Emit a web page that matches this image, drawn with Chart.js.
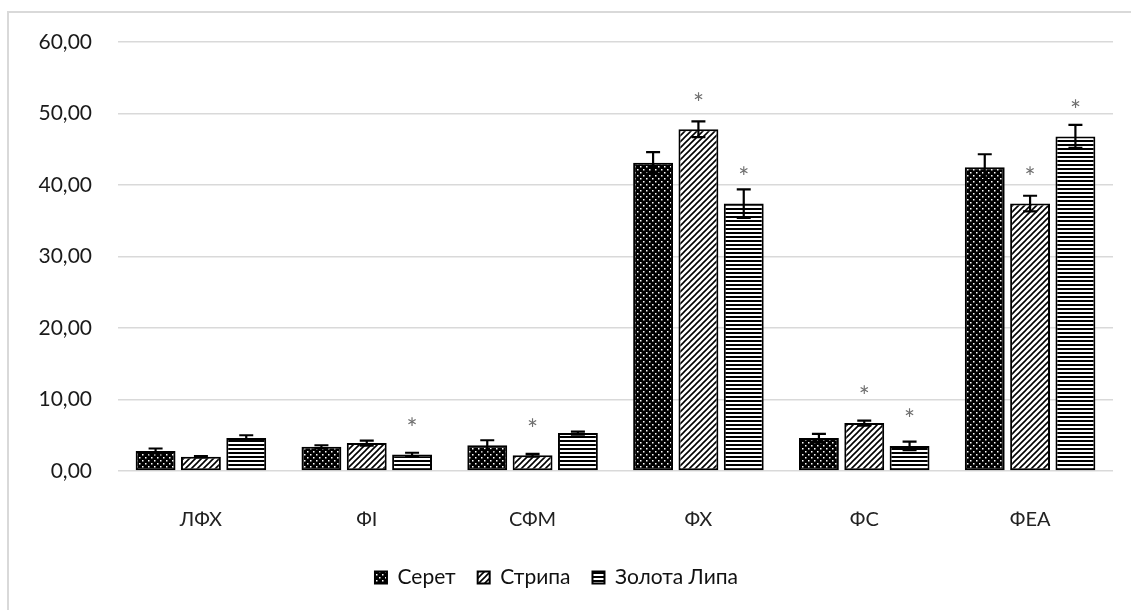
<!DOCTYPE html>
<html>
<head>
<meta charset="utf-8">
<script src="https://cdn.jsdelivr.net/npm/chart.js@4/dist/chart.umd.min.js"></script>
<style>
    html, body { margin: 0; padding: 0; background: #ffffff; }
    #wrap { width: 1131px; height: 610px; position: relative; }
</style>
</head>
<body>
<div id="wrap"><canvas id="ChartCanvas"></canvas></div>
<script>
// Categories and series
const categories = ['ЛФХ', 'ФІ', 'СФМ', 'ФХ', 'ФС', 'ФЕА'];

const seretValues  = [2.8, 3.4, 3.6, 43.1, 4.6, 42.5];
const seretErrors  = [0.35, 0.2, 0.7, 1.5, 0.6, 1.8];
const seretStars   = [false, false, false, false, false, false];

const strypaValues = [2.0, 3.9, 2.2, 47.8, 6.7, 37.4];
const strypaErrors = [0.1, 0.35, 0.2, 1.1, 0.35, 1.1];
const strypaStars  = [false, false, true, true, true, true];

const zolotaValues = [4.6, 2.3, 5.3, 37.4, 3.5, 46.8];
const zolotaErrors = [0.4, 0.25, 0.2, 2.0, 0.6, 1.6];
const zolotaStars  = [false, true, false, true, true, true];

const yTicks = [0, 10, 20, 30, 40, 50, 60];

// Fill patterns like the black/white Excel ones
function MakePattern(kind)
{
    const tile = document.createElement('canvas');
    const c = tile.getContext('2d');
    if (kind === 'dots')
    {
        tile.width = 6; tile.height = 6;
        c.fillStyle = '#000';
        c.fillRect(0, 0, 6, 6);
        c.fillStyle = '#fff';
        c.fillRect(1, 1, 1.5, 1.5);
        c.fillRect(4, 4, 1.5, 1.5);
    }
    else if (kind === 'diagonal')
    {
        tile.width = 6; tile.height = 6;
        c.fillStyle = '#fff';
        c.fillRect(0, 0, 6, 6);
        c.strokeStyle = '#000';
        c.lineWidth = 1.6;
        c.beginPath();
        c.moveTo(-1, 7); c.lineTo(7, -1);
        c.moveTo(-1, 1); c.lineTo(1, -1);
        c.moveTo(5, 7); c.lineTo(7, 5);
        c.stroke();
    }
    else
    {
        tile.width = 4; tile.height = 4;
        c.fillStyle = '#fff';
        c.fillRect(0, 0, 4, 4);
        c.fillStyle = '#000';
        c.fillRect(0, 0, 4, 2);
    }
    return c.createPattern(tile, 'repeat');
}

const errorData = [seretErrors, strypaErrors, zolotaErrors];
const starData = [seretStars, strypaStars, zolotaStars];

const errorBarsPlugin =
{
    id: 'errorBars',
    beforeDraw(chart)
    {
        // outer frame
        const ctx = chart.ctx;
        ctx.save();
        ctx.strokeStyle = '#d9d9d9';
        ctx.lineWidth = 2;
        ctx.beginPath();
        ctx.moveTo(8, 640);
        ctx.lineTo(8, 12);
        ctx.lineTo(1140, 12);
        ctx.stroke();
        ctx.restore();
    },
    afterDatasetsDraw(chart)
    {
        const ctx = chart.ctx;
        const yScale = chart.scales.y;
        ctx.save();
        chart.data.datasets.forEach((ds, di) =>
        {
            const meta = chart.getDatasetMeta(di);
            meta.data.forEach((bar, i) =>
            {
                const v = ds.data[i];
                const e = errorData[di][i];
                const yTop = yScale.getPixelForValue(v + e);
                const yBot = yScale.getPixelForValue(v - e);
                ctx.strokeStyle = '#000';
                ctx.lineWidth = 2.2;
                ctx.beginPath();
                ctx.moveTo(bar.x, yTop); ctx.lineTo(bar.x, yBot);
                ctx.moveTo(bar.x - 7, yTop); ctx.lineTo(bar.x + 7, yTop);
                ctx.moveTo(bar.x - 7, yBot); ctx.lineTo(bar.x + 7, yBot);
                ctx.stroke();

                if (starData[di][i])
                {
                    ctx.fillStyle = '#6f6f6f';
                    ctx.font = '26px Lato';
                    ctx.textAlign = 'center';
                    ctx.textBaseline = 'middle';
                    ctx.fillText('*', bar.x, bar.y - 25);
                }
            });
        });
        ctx.restore();
    }
};

function MakeDataset(label, values, pattern)
{
    return {
        label: label,
        data: values,
        backgroundColor: pattern,
        borderColor: '#000',
        borderWidth: 2,
        borderSkipped: false,
        categoryPercentage: 0.82,
        barPercentage: 0.88
    };
}

new Chart(document.getElementById('ChartCanvas'),
{
    type: 'bar',
    data:
    {
        labels: categories,
        datasets:
        [
            MakeDataset('Серет', seretValues, MakePattern('dots')),
            MakeDataset('Стрипа', strypaValues, MakePattern('diagonal')),
            MakeDataset('Золота Липа', zolotaValues, MakePattern('horizontal'))
        ]
    },
    options:
    {
        responsive: true,
        maintainAspectRatio: false,
        animation: false,
        layout: { padding: { top: 42, right: 18, bottom: 12, left: 0 } },
        plugins:
        {
            tooltip: { enabled: false },
            legend:
            {
                position: 'bottom',
                labels:
                {
                    boxWidth: 12,
                    boxHeight: 12,
                    padding: 22,
                    color: '#111',
                    font: { family: 'Lato', size: 21 }
                }
            }
        },
        scales:
        {
            x:
            {
                grid: { display: false },
                border: { display: false },
                ticks: { color: '#222', padding: 29, font: { family: 'Lato', size: 20 } },
                afterFit(scale) { scale.height = 74; }
            },
            y:
            {
                min: 0,
                max: 60,
                afterBuildTicks(scale) { scale.ticks = yTicks.map(v => ({ value: v })); },
                grid: { color: '#d9d9d9', lineWidth: 1.5, drawTicks: false },
                border: { display: false },
                ticks:
                {
                    color: '#1a1a1a',
                    padding: 26,
                    font: { family: 'Lato', size: 21 },
                    callback: v => v.toFixed(2).replace('.', ',')
                },
                afterFit(scale) { scale.width = 118; }
            }
        }
    },
    plugins: [errorBarsPlugin]
});
</script>
</body>
</html>
